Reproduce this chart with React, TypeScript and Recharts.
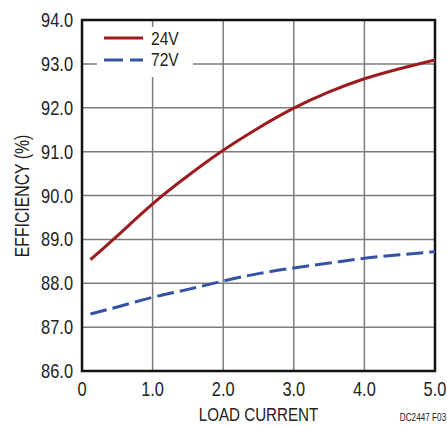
import { LineChart, Line, XAxis, YAxis, CartesianGrid, ReferenceArea, Legend } from "recharts";

const loadCurrent = [0.12, 0.5, 1.0, 1.5, 2.0, 2.5, 3.0, 3.5, 4.0, 4.5, 5.0];
const eff24V = [88.54, 89.08, 89.81, 90.45, 91.03, 91.54, 91.99, 92.36, 92.66, 92.89, 93.09];
const eff72V = [87.3, 87.46, 87.68, 87.86, 88.05, 88.22, 88.35, 88.46, 88.57, 88.65, 88.72];
const xTicks = [0, 1, 2, 3, 4, 5];
const yTicks = [86, 87, 88, 89, 90, 91, 92, 93, 94];

const FONT = '"Liberation Sans", Arial, sans-serif';
const SQUEEZE = 0.82; // condensed look
const RED = "#9b1b1f";
const BLUE = "#3453a5";
const INK = "#222";

const series = [
  { key: "v24", name: "24V", color: RED, dash: undefined as string | undefined },
  { key: "v72", name: "72V", color: BLUE, dash: "17 6" },
];

const data = loadCurrent.map((x, i) => ({ x, v24: eff24V[i], v72: eff72V[i] }));

function CondText(props: {
  x: number;
  y: number;
  size: number;
  anchor?: "start" | "middle" | "end";
  dy?: string;
  rotate?: number;
  children: string;
}) {
  const { x, y, size, anchor = "middle", dy, rotate = 0, children } = props;
  return (
    <text
      transform={`translate(${x},${y}) rotate(${rotate}) scale(${SQUEEZE},1)`}
      x={0}
      y={0}
      dy={dy}
      textAnchor={anchor}
      fontSize={size}
      fontFamily={FONT}
      fill={INK}
    >
      {children}
    </text>
  );
}

function XTick(props: any) {
  const v = props.payload.value as number;
  return (
    <CondText x={props.x} y={props.y} size={20} dy="0.71em">
      {v === 0 ? "0" : v.toFixed(1)}
    </CondText>
  );
}

function YTick(props: any) {
  const v = props.payload.value as number;
  return (
    <CondText x={props.x} y={props.y} size={20} anchor="end" dy="0.355em">
      {v.toFixed(1)}
    </CondText>
  );
}

function LegendBox() {
  return (
    <svg width={96} height={50} style={{ display: "block", background: "#fff" }}>
      {series.map((s, i) => (
        <g key={s.key}>
          <line
            x1={7}
            x2={46}
            y1={11 + i * 22}
            y2={11 + i * 22}
            stroke={s.color}
            strokeWidth={3}
            strokeDasharray={s.dash === undefined ? undefined : "19 7"}
          />
          <CondText x={54} y={18 + i * 21} size={19} anchor="start">
            {s.name}
          </CondText>
        </g>
      ))}
    </svg>
  );
}

export default function App() {
  return (
    <div style={{ position: "absolute", left: 0, top: 0, width: 447, height: 426, background: "#fff" }}>
      <LineChart width={447} height={426} data={data} margin={{ top: 20, right: 12, left: 0, bottom: 0 }}>
        <CartesianGrid stroke="#7c7c7c" strokeWidth={1.5} />
        <XAxis
          dataKey="x"
          type="number"
          domain={[0, 5]}
          ticks={xTicks}
          height={55}
          tickSize={0}
          tickMargin={11}
          tickLine={false}
          axisLine={false}
          tick={XTick}
          label={{
            content: () => (
              <g>
                <CondText x={258.5} y={421} size={18.5}>
                  LOAD CURRENT
                </CondText>
                <CondText x={423} y={421} size={10}>
                  DC2447 F03
                </CondText>
              </g>
            ),
          }}
        />
        <YAxis
          type="number"
          domain={[86, 94]}
          ticks={yTicks}
          width={82}
          tickSize={0}
          tickMargin={9}
          tickLine={false}
          axisLine={false}
          tick={YTick}
          label={{
            content: () => (
              <CondText x={22} y={196} size={19.3} dy="0.35em" rotate={-90}>
                EFFICIENCY (%)
              </CondText>
            ),
          }}
        />
        <ReferenceArea x1={0} x2={5} y1={86} y2={94} fill="none" stroke="#111" strokeWidth={2.5} ifOverflow="visible" />
        <Legend
          layout="vertical"
          align="center"
          verticalAlign="middle"
          content={() => <LegendBox />}
          wrapperStyle={{ left: 97, top: 27, width: 96, height: 50 }}
        />
        {series.map((s) => (
          <Line
            key={s.key}
            dataKey={s.key}
            name={s.name}
            type="natural"
            stroke={s.color}
            strokeWidth={3}
            strokeDasharray={s.dash}
            dot={false}
            activeDot={false}
            isAnimationActive={false}
          />
        ))}
      </LineChart>
    </div>
  );
}
